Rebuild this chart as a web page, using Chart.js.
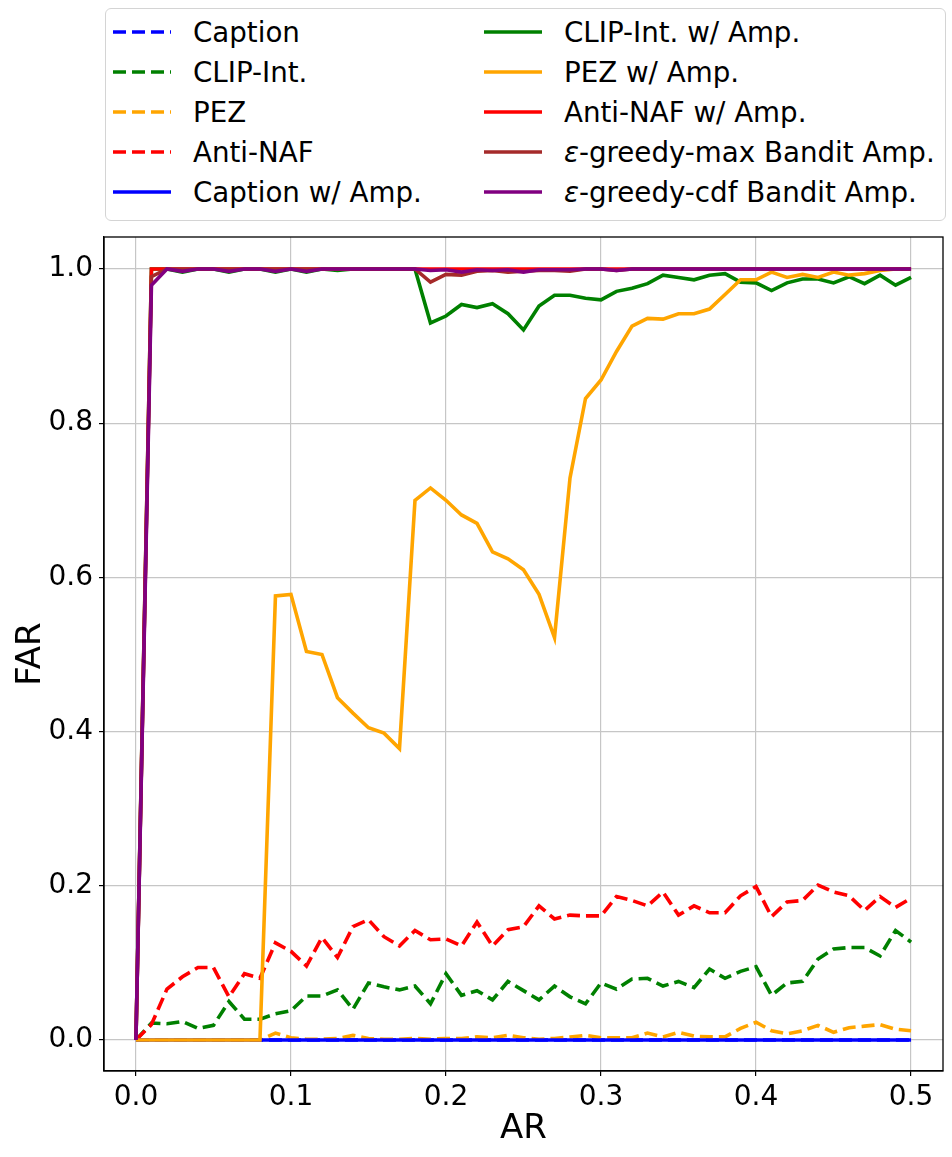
<!DOCTYPE html>
<html>
<head>
<meta charset="utf-8">
<script src="https://cdn.jsdelivr.net/npm/chart.js@4"></script>
<style>
  html, body { margin: 0; padding: 0; background: #fff; }
  #wrap { position: relative; width: 952px; height: 1157px; }
  #far { position: absolute; left: 0; top: 0; }
  #legend {
    position: absolute; left: 105px; top: 8px; width: 839px; height: 211px;
    border: 1.5px solid #d4d4d4; border-radius: 6px; background: #fff;
    font-family: 'DejaVu Sans', sans-serif; font-size: 27.7px; color: #000;
  }
  .item { position: absolute; height: 40px; display: flex; align-items: center; white-space: nowrap; }
  .item svg { margin-right: 22px; }
</style>
</head>
<body>
<div id="wrap">
  <canvas id="far" width="952" height="1157"></canvas>
  <div id="legend"></div>
</div>
<script>
const ar = [0.00, 0.01, 0.02, 0.03, 0.04, 0.05, 0.06, 0.07, 0.08, 0.09,
            0.10, 0.11, 0.12, 0.13, 0.14, 0.15, 0.16, 0.17, 0.18, 0.19,
            0.20, 0.21, 0.22, 0.23, 0.24, 0.25, 0.26, 0.27, 0.28, 0.29,
            0.30, 0.31, 0.32, 0.33, 0.34, 0.35, 0.36, 0.37, 0.38, 0.39,
            0.40, 0.41, 0.42, 0.43, 0.44, 0.45, 0.46, 0.47, 0.48, 0.49, 0.50];

const xTicks = [0.0, 0.1, 0.2, 0.3, 0.4, 0.5];
const yTicks = [0.0, 0.2, 0.4, 0.6, 0.8, 1.0];

// baselines
const caption = [0, 0, 0, 0, 0, 0, 0, 0, 0, 0, 0, 0, 0, 0, 0, 0, 0, 0, 0, 0,
                 0, 0, 0, 0, 0, 0, 0, 0, 0, 0, 0, 0, 0, 0, 0, 0, 0, 0, 0, 0,
                 0, 0, 0, 0, 0, 0, 0, 0, 0, 0, 0];
const clipInt = [0, 0.022, 0.021, 0.024, 0.015, 0.019, 0.050, 0.027, 0.027, 0.034,
                 0.038, 0.057, 0.057, 0.065, 0.040, 0.074, 0.069, 0.065, 0.070, 0.047,
                 0.086, 0.058, 0.064, 0.052, 0.076, 0.064, 0.052, 0.070, 0.056, 0.047,
                 0.074, 0.066, 0.079, 0.080, 0.070, 0.076, 0.068, 0.092, 0.080, 0.089,
                 0.095, 0.058, 0.074, 0.076, 0.105, 0.118, 0.120, 0.120, 0.109, 0.142, 0.127];
const pez = [0, 0, 0, 0, 0, 0, 0, 0, 0, 0.009,
             0.003, 0.001, 0.001, 0.002, 0.006, 0.002, 0.001, 0.001, 0.002, 0.001,
             0.002, 0.002, 0.004, 0.003, 0.006, 0.003, 0.001, 0.002, 0.004, 0.006,
             0.003, 0.003, 0.003, 0.009, 0.004, 0.010, 0.005, 0.004, 0.004, 0.015,
             0.023, 0.012, 0.008, 0.012, 0.019, 0.010, 0.016, 0.018, 0.020, 0.014, 0.012];
const antiNaf = [0, 0.020, 0.066, 0.082, 0.094, 0.094, 0.056, 0.086, 0.080, 0.126,
                 0.115, 0.096, 0.133, 0.107, 0.147, 0.156, 0.134, 0.122, 0.142, 0.130,
                 0.131, 0.122, 0.153, 0.122, 0.143, 0.147, 0.174, 0.157, 0.162, 0.161,
                 0.161, 0.186, 0.181, 0.174, 0.192, 0.162, 0.174, 0.165, 0.165, 0.187,
                 0.199, 0.160, 0.179, 0.181, 0.201, 0.192, 0.187, 0.168, 0.186, 0.172, 0.184];

// with amplification
const captionAmp = [0, 0, 0, 0, 0, 0, 0, 0, 0, 0, 0, 0, 0, 0, 0, 0, 0, 0, 0, 0,
                    0, 0, 0, 0, 0, 0, 0, 0, 0, 0, 0, 0, 0, 0, 0, 0, 0, 0, 0, 0,
                    0, 0, 0, 0, 0, 0, 0, 0, 0, 0, 0];
const clipIntAmp = [0, 1.0, 1.0, 0.996, 1.0, 1.0, 0.996, 1.0, 1.0, 0.996,
                    1.0, 0.996, 1.0, 0.998, 1.0, 1.0, 1.0, 1.0, 1.0, 0.930,
                    0.939, 0.954, 0.950, 0.955, 0.942, 0.921, 0.952, 0.966, 0.966, 0.962,
                    0.960, 0.971, 0.975, 0.981, 0.992, 0.989, 0.986, 0.992, 0.994, 0.983,
                    0.982, 0.972, 0.982, 0.987, 0.987, 0.982, 0.990, 0.981, 0.992, 0.979, 0.989];
const pezAmp = [0, 0, 0, 0, 0, 0, 0, 0, 0, 0.576,
                0.578, 0.504, 0.500, 0.444, 0.424, 0.405, 0.398, 0.378, 0.700, 0.716,
                0.700, 0.681, 0.670, 0.633, 0.624, 0.610, 0.578, 0.522, 0.729, 0.832,
                0.856, 0.893, 0.926, 0.936, 0.935, 0.942, 0.942, 0.948, 0.967, 0.986,
                0.986, 0.996, 0.989, 0.993, 0.989, 0.996, 0.992, 0.994, 0.998, 1.0, 1.0];
const antiNafAmp = [0, 1, 1, 1, 1, 1, 1, 1, 1, 1, 1, 1, 1, 1, 1, 1, 1, 1, 1, 1,
                    1, 1, 1, 1, 1, 1, 1, 1, 1, 1, 1, 1, 1, 1, 1, 1, 1, 1, 1, 1,
                    1, 1, 1, 1, 1, 1, 1, 1, 1, 1, 1];
const banditMax = [0, 0.990, 1.0, 1.0, 1.0, 1.0, 1.0, 1.0, 1.0, 1.0,
                   1.0, 1.0, 1.0, 1.0, 1.0, 1.0, 1.0, 1.0, 1.0, 0.983,
                   0.993, 0.992, 0.997, 0.998, 0.996, 0.997, 0.998, 0.998, 0.997, 1.0,
                   1.0, 0.998, 1.0, 1.0, 1.0, 1.0, 1.0, 1.0, 1.0, 1.0,
                   1.0, 1.0, 1.0, 1.0, 1.0, 1.0, 1.0, 1.0, 1.0, 1.0, 1.0];
const banditCdf = [0, 0.979, 1.0, 0.997, 1.0, 1.0, 0.997, 1.0, 1.0, 0.997,
                   1.0, 0.997, 1.0, 1.0, 1.0, 1.0, 1.0, 1.0, 1.0, 0.998,
                   0.999, 0.996, 0.999, 0.998, 0.999, 0.996, 0.999, 0.999, 0.999, 1.0,
                   1.0, 0.998, 1.0, 1.0, 1.0, 1.0, 1.0, 1.0, 1.0, 1.0,
                   1.0, 1.0, 1.0, 1.0, 1.0, 1.0, 1.0, 1.0, 1.0, 1.0, 1.0];

const DASH = [13, 6];
const series = [
  { label: 'Caption', data: caption, color: '#0000ff', dash: DASH },
  { label: 'CLIP-Int.', data: clipInt, color: '#008000', dash: DASH },
  { label: 'PEZ', data: pez, color: '#ffa500', dash: DASH },
  { label: 'Anti-NAF', data: antiNaf, color: '#ff0000', dash: DASH },
  { label: 'Caption w/ Amp.', data: captionAmp, color: '#0000ff', dash: [] },
  { label: 'CLIP-Int. w/ Amp.', data: clipIntAmp, color: '#008000', dash: [] },
  { label: 'PEZ w/ Amp.', data: pezAmp, color: '#ffa500', dash: [] },
  { label: 'Anti-NAF w/ Amp.', data: antiNafAmp, color: '#ff0000', dash: [] },
  { label: '<i>ε</i>-greedy-max Bandit Amp.', data: banditMax, color: '#a52a2a', dash: [] },
  { label: '<i>ε</i>-greedy-cdf Bandit Amp.', data: banditCdf, color: '#800080', dash: [] }
];

const FONT = 'DejaVu Sans';

const frame = {
  id: 'frame',
  afterDraw(chart) {
    const { ctx, chartArea: a } = chart;
    ctx.save();
    ctx.strokeStyle = '#000';
    ctx.lineWidth = 1.3;
    ctx.strokeRect(a.left, a.top, a.right - a.left, a.bottom - a.top);
    ctx.restore();
  }
};

document.addEventListener('DOMContentLoaded', () => {
  const datasets = series.map((s, i) => ({
    label: s.label.replace(/<\/?i>/g, ''),
    data: s.data.map((v, k) => ({ x: ar[k], y: v })),
    borderColor: s.color,
    backgroundColor: s.color,
    borderDash: s.dash,
    borderWidth: 3.6,
    pointRadius: 0,
    tension: 0,
    fill: false,
    order: series.length - i
  }));

  new Chart(document.getElementById('far'), {
    type: 'line',
    data: { datasets },
    options: {
      responsive: false,
      animation: false,
      layout: { padding: { top: 237, right: 9, left: 0, bottom: 0 } },
      plugins: { legend: { display: false }, tooltip: { enabled: false } },
      scales: {
        x: {
          type: 'linear',
          min: -0.0206,
          max: 0.5206,
          afterBuildTicks: s => { s.ticks = xTicks.map(v => ({ value: v })); },
          afterFit: s => { s.height = 86; },
          ticks: { callback: v => v.toFixed(1), font: { family: FONT, size: 28 }, color: '#000', padding: 5, maxRotation: 0, autoSkip: false },
          grid: { color: '#c6c6c6', lineWidth: 1.2, tickColor: '#000', tickLength: 5, tickWidth: 1.2 },
          border: { color: '#000', width: 1.3 },
          title: { display: true, text: 'AR', font: { family: FONT, size: 34 }, color: '#000', padding: { top: 0, bottom: 7 } }
        },
        y: {
          type: 'linear',
          min: -0.0402,
          max: 1.0415,
          afterBuildTicks: s => { s.ticks = yTicks.map(v => ({ value: v })); },
          afterFit: s => { s.width = 104; },
          ticks: { callback: v => v.toFixed(1), font: { family: FONT, size: 28 }, color: '#000', padding: 6, autoSkip: false },
          grid: { color: '#c6c6c6', lineWidth: 1.2, tickColor: '#000', tickLength: 5, tickWidth: 1.2 },
          border: { color: '#000', width: 1.3 },
          title: { display: true, text: 'FAR', font: { family: FONT, size: 34 }, color: '#000', padding: { top: 11, bottom: 0 } }
        }
      }
    },
    plugins: [frame]
  });

  // two-column legend, filled column by column like the original
  const box = document.getElementById('legend');
  series.forEach((s, i) => {
    const col = Math.floor(i / 5), row = i % 5;
    const el = document.createElement('div');
    el.className = 'item';
    el.style.left = (col === 0 ? 7 : 378) + 'px';
    el.style.top = (3 + row * 40) + 'px';
    const dash = s.dash.length ? ` stroke-dasharray="${s.dash.join(',')}"` : '';
    el.innerHTML = `<svg width="58" height="10"><line x1="0" y1="5" x2="58" y2="5" stroke="${s.color}" stroke-width="3.6"${dash}/></svg><span>${s.label}</span>`;
    box.appendChild(el);
  });
});
</script>
</body>
</html>
